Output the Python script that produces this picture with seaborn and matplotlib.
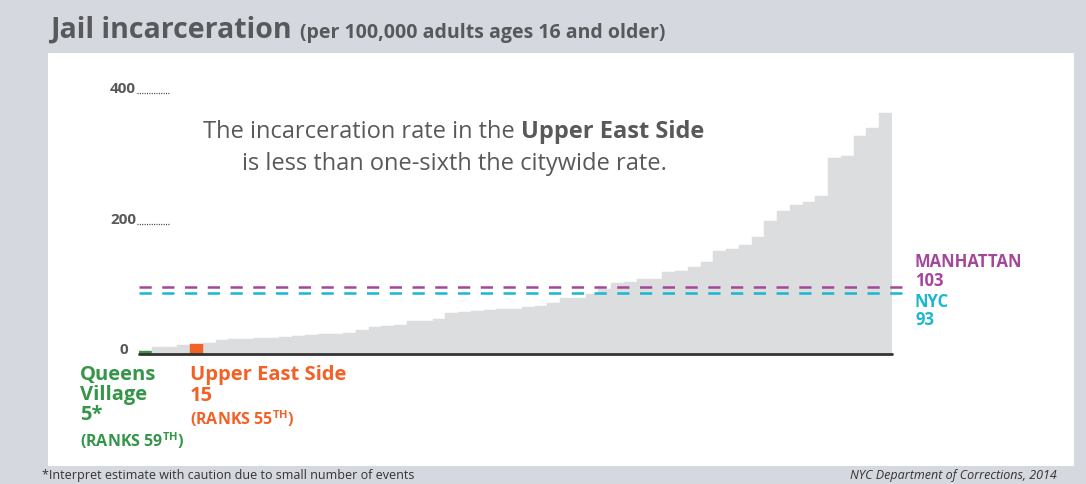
import matplotlib
matplotlib.use("Agg")
import matplotlib.pyplot as plt
import matplotlib.patches as mpatches
import matplotlib.transforms as mtransforms
import seaborn as sns
import pandas as pd

# ---------------- data ----------------
ranks = list(range(59, 0, -1))  # leftmost bar = rank 59 (lowest rate)
rates = [5, 10, 10, 14, 15, 17, 21, 23, 23, 24, 25, 26, 28, 29, 30, 31, 32, 37, 41, 43,
         44, 50, 51, 54, 63, 64, 66, 68, 69, 69, 72, 74, 78, 86, 86, 92, 99, 109, 110, 115,
         115, 126, 127, 133, 141, 158, 161, 167, 179, 204, 219, 228, 233, 242, 300, 303, 334, 346, 369]
highlights = {59: "Queens Village", 55: "Upper East Side"}
manhattan_rate = 103
nyc_rate = 93
y_ticks = [0, 200, 400]

# ---------------- style ----------------
sns.set_theme(style="white")
plt.rcParams["font.family"] = ["Open Sans", "DejaVu Sans"]
plt.rcParams["mathtext.fontset"] = "custom"
plt.rcParams["mathtext.bf"] = "Open Sans:bold"
plt.rcParams["mathtext.rm"] = "Open Sans"

W, H = 1086, 484
BG = "#d5d8de"
GRAY_BAR = "#dcdddf"
GREEN = "#35964a"
ORANGE = "#f26126"
PURPLE = "#a3479b"
TEAL = "#1bb6cf"
TXT = "#58595b"

fig = plt.figure(figsize=(W / 100, H / 100), dpi=100, facecolor=BG)

def P(x, y):
    return (x / W, 1 - y / H)

# white panel
fig.patches.append(mpatches.Rectangle(P(48, 466), (1074 - 48) / W, (466 - 53) / H,
                                      transform=fig.transFigure, facecolor="white",
                                      edgecolor="none", zorder=-5))

# axes
x0, x1 = 139, 892
y0, y400 = 354, 93
ax = fig.add_axes([x0 / W, (H - y0) / H, (x1 - x0) / W, (y0 - y400) / H])
ax.set_facecolor("none")
ax.set_zorder(2)

df = pd.DataFrame({"rank": [str(r) for r in ranks], "rate": rates,
                   "group": [highlights.get(r, "other") for r in ranks]})
palette = {"other": GRAY_BAR, "Queens Village": GREEN, "Upper East Side": ORANGE}
sns.barplot(data=df, x="rank", y="rate", hue="group", palette=palette, dodge=False,
            width=1.0, order=df["rank"], legend=False, ax=ax, linewidth=0, saturation=1)
for p in ax.patches:
    p.set_edgecolor(p.get_facecolor())
    p.set_linewidth(0.3)

ax.set_xlim(-0.5, len(rates) - 0.5)
ax.set_ylim(0, 400)
for s in ax.spines.values():
    s.set_visible(False)
ax.set_xticks([])
ax.set_yticks([])
ax.set_xlabel("")
ax.set_ylabel("")

# baseline
ax.axhline(0, color="#333333", lw=2.0, zorder=5, clip_on=False)

# reference lines
xe = len(rates) + 0.9
ax.plot([-0.5, xe], [manhattan_rate] * 2, color=PURPLE, lw=1.8,
        linestyle=(0, (4.9, 4.2)), clip_on=False, zorder=4)
ax.plot([-0.5, xe], [nyc_rate] * 2, color=TEAL, lw=1.8,
        linestyle=(0, (4.9, 4.2)), clip_on=False, zorder=4)

# y tick labels + dotted leaders
blend = mtransforms.blended_transform_factory(ax.transAxes, ax.transData)
for v in y_ticks:
    xr = (136 - x0) / (x1 - x0) if v else (128 - x0) / (x1 - x0)
    ax.text(xr, v, f"{v}", transform=blend, ha="right", va="baseline",
            fontsize=11, fontweight="bold", color=TXT, clip_on=False)
    if v:
        ax.plot([(137 - x0) / (x1 - x0), (170 - x0) / (x1 - x0)], [v, v], transform=blend,
                color="#333333", lw=0.9, linestyle=(0, (0.8, 1.1)), clip_on=False)

# right labels
fs_r = 12
fig.text(*P(915, 267), "MANHATTAN", fontsize=fs_r, fontweight="bold", color=PURPLE)
fig.text(*P(915, 286), f"{manhattan_rate}", fontsize=fs_r, fontweight="bold", color=PURPLE)
fig.text(*P(915, 307), "NYC", fontsize=fs_r, fontweight="bold", color=TEAL)
fig.text(*P(915, 325), f"{nyc_rate}", fontsize=fs_r, fontweight="bold", color=TEAL)

# bottom labels
fs_b = 14.5
fig.text(*P(80, 380), "Queens", fontsize=fs_b, fontweight="bold", color=GREEN)
fig.text(*P(80, 400), "Village", fontsize=fs_b, fontweight="bold", color=GREEN)
fig.text(*P(80, 420), f"{rates[ranks.index(59)]}*", fontsize=fs_b, fontweight="bold", color=GREEN)
fig.text(*P(80, 447), r"(RANKS $\mathbf{59}^{\mathbf{TH}}$)", fontsize=11.5, fontweight="bold", color=GREEN)
fig.text(*P(190, 380), "Upper East Side", fontsize=fs_b, fontweight="bold", color=ORANGE)
fig.text(*P(190, 401), f"{rates[ranks.index(55)]}", fontsize=fs_b, fontweight="bold", color=ORANGE)
fig.text(*P(190, 425), r"(RANKS $\mathbf{55}^{\mathbf{TH}}$)", fontsize=11.5, fontweight="bold", color=ORANGE)

# title
renderer = fig.canvas.get_renderer()
t1 = fig.text(*P(50, 38), "Jail incarceration", fontsize=20.5, fontweight="bold", color=TXT)
w1 = t1.get_window_extent(renderer).width
fig.text(*P(50 + w1 + 8, 38), "(per 100,000 adults ages 16 and older)", fontsize=14,
         fontweight="bold", color=TXT)

# central annotation (mixed weight)
fs_a = 17
ta = fig.text(0, 0, "The incarceration rate in the", fontsize=fs_a, color=TXT)
tb = fig.text(0, 0, "Upper East Side", fontsize=fs_a, fontweight="bold", color=TXT)
tx1 = fig.text(0, 0, "x x", fontsize=fs_a)
tx2 = fig.text(0, 0, "xx", fontsize=fs_a)
sp = tx1.get_window_extent(renderer).width - tx2.get_window_extent(renderer).width
tx1.remove(); tx2.remove()
wa = ta.get_window_extent(renderer).width
wb = tb.get_window_extent(renderer).width
start = 454 - (wa + sp + wb) / 2
ta.set_position(P(start, 138))
tb.set_position(P(start + wa + sp, 138))
fig.text(*P(454, 170), "is less than one-sixth the citywide rate.", fontsize=fs_a,
         color=TXT, ha="center")

# footer
fig.text(*P(42, 469), "*Interpret estimate with caution due to small number of events",
         fontsize=9, color="#333333", va="top")
fig.text(*P(1057, 469), "NYC Department of Corrections, 2014", fontsize=9,
         color="#333333", va="top", ha="right", style="italic")

fig.savefig("out.png", dpi=100, facecolor=BG)
